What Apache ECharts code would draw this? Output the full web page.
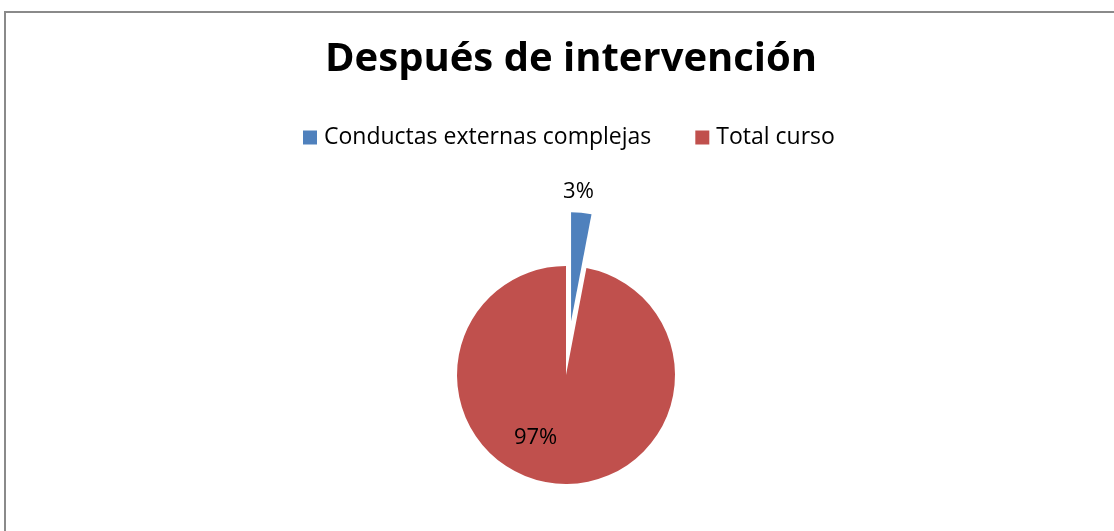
<!DOCTYPE html>
<html>
<head>
<meta charset="utf-8">
<script src="https://cdn.jsdelivr.net/npm/echarts@6/dist/echarts.min.js"></script>
<style>
  html, body { margin: 0; padding: 0; background: #fff; }
  #chart { width: 1114px; height: 531px; }
</style>
</head>
<body>
<div id="chart"></div>
<script>
// data
var categories = ["Conductas externas complejas", "Total curso"];
var values = [3, 97];
var colors = ["#4F81BD", "#C0504D"];

var myChart = echarts.init(document.getElementById("chart"));

var pieData = categories.map(function (name, i) {
  return { name: name, value: values[i], itemStyle: { color: colors[i] } };
});
// small slice is pulled out, label sits above it
pieData[0].selected = true;
pieData[0].label = { position: "inside", offset: [2, -72] };
pieData[0].select = { label: { offset: [2, -72] } };
pieData[1].label = { position: "inside", offset: [-25, 5] };

var option = {
  animation: false,
  backgroundColor: "#fff",
  title: {
    text: "Después de intervención",
    left: 320,
    top: 35,
    textStyle: { fontFamily: "Open Sans", fontWeight: "bold", fontSize: 40, color: "#000" }
  },
  legend: {
    data: categories,
    top: 121,
    left: 298,
    icon: "rect",
    itemWidth: 14,
    itemHeight: 14,
    itemGap: 44,
    textStyle: { fontFamily: "Open Sans", fontSize: 23, color: "#000", padding: [0, 0, 0, 2] }
  },
  graphic: [{
    type: "rect",
    shape: { x: 5, y: 12, width: 1130, height: 540 },
    style: { fill: "none", stroke: "#8a8a8a", lineWidth: 2 },
    silent: true
  }],
  series: [{
    type: "pie",
    center: [566, 375],
    radius: 109,
    startAngle: 90,
    clockwise: true,
    selectedMode: "single",
    selectedOffset: 54,
    label: {
      show: true,
      formatter: "{d}%",
      fontFamily: "Open Sans",
      fontSize: 22,
      color: "#000"
    },
    labelLine: { show: false },
    emphasis: { disabled: true },
    itemStyle: { borderWidth: 0 },
    data: pieData
  }]
};

myChart.setOption(option);
</script>
</body>
</html>
